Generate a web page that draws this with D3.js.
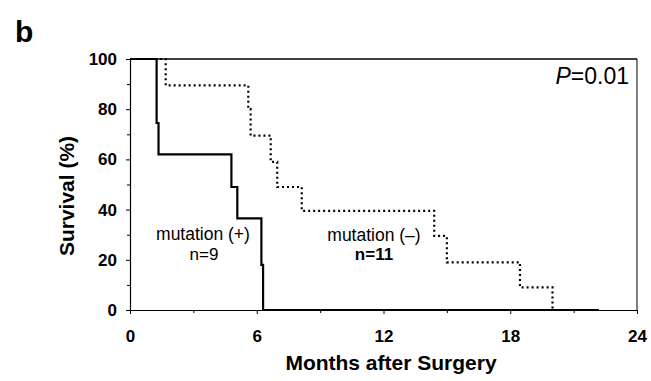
<!DOCTYPE html>
<html>
<head>
<meta charset="utf-8">
<script src="https://cdn.jsdelivr.net/npm/d3@7"></script>
<style>
  body { margin: 0; background: #fff; }
  svg { display: block; font-family: "Liberation Sans", Arial, Helvetica, sans-serif; }
  .axis path, .axis line { stroke: #000; }
  .axis text { font-size: 17px; font-weight: bold; fill: #000; }
</style>
</head>
<body>
<div id="chart"></div>
<script>
// Kaplan-Meier steps (months, survival %)
const posMonths = [0, 1.26, 1.35, 4.8, 5.08, 6.22, 6.3, 22.2];
const posSurvival = [100, 74.5, 62, 49, 36.5, 18, 0, 0];
const negMonths = [0, 1.69, 5.6, 5.71, 6.66, 6.97, 8.13, 14.4, 15.0, 18.46, 20.0];
const negSurvival = [100, 89.5, 80, 69.5, 59, 49, 39.5, 29.5, 19, 9, 0];
const xTicks = [0, 6, 12, 18, 24];
const xMinor = [3, 9, 15, 21];
const yTicks = [0, 20, 40, 60, 80, 100];
const yMinor = [10, 30, 50, 70, 90];

const width = 651, height = 381;
const plotLeft = 130, plotRight = 637, plotTop = 59, plotBottom = 310;

const svg = d3.select("#chart").append("svg")
    .attr("width", width)
    .attr("height", height);

const x = d3.scaleLinear().domain([0, 24]).range([plotLeft, plotRight]);
const y = d3.scaleLinear().domain([0, 100]).range([plotBottom, plotTop]);

// Axes
svg.append("g")
    .attr("class", "axis")
    .attr("transform", `translate(0, ${plotBottom})`)
    .call(d3.axisBottom(x).tickValues(xTicks).tickSize(4).tickPadding(16).tickSizeOuter(0))
    .call(g => g.select(".domain").attr("stroke-width", 1.2));

svg.append("g")
    .attr("class", "axis")
    .attr("transform", `translate(0, ${plotBottom})`)
    .call(d3.axisBottom(x).tickValues(xMinor).tickSize(3).tickFormat("").tickSizeOuter(0))
    .call(g => g.select(".domain").remove());

svg.append("g")
    .attr("class", "axis")
    .attr("transform", `translate(${plotLeft}, 0)`)
    .call(d3.axisLeft(y).tickValues(yTicks).tickSize(4).tickPadding(9).tickSizeOuter(0))
    .call(g => g.select(".domain").attr("stroke-width", 1.2));

svg.append("g")
    .attr("class", "axis")
    .attr("transform", `translate(${plotLeft}, 0)`)
    .call(d3.axisLeft(y).tickValues(yMinor).tickSize(3).tickFormat("").tickSizeOuter(0))
    .call(g => g.select(".domain").remove());

// Frame top and right
svg.append("line")
    .attr("x1", plotLeft).attr("x2", plotRight)
    .attr("y1", plotTop).attr("y2", plotTop)
    .attr("stroke", "#000").attr("stroke-width", 1.5);
svg.append("line")
    .attr("x1", plotRight).attr("x2", plotRight)
    .attr("y1", plotTop).attr("y2", plotBottom)
    .attr("stroke", "#000").attr("stroke-width", 1);

// Step curves
const line = d3.line()
    .x(d => x(d[0]))
    .y(d => y(d[1]))
    .curve(d3.curveStepAfter);

svg.append("path")
    .datum(d3.zip(negMonths, negSurvival))
    .attr("d", line)
    .attr("fill", "none")
    .attr("stroke", "#000")
    .attr("stroke-width", 2.2)
    .attr("stroke-dasharray", "2,3");

svg.append("path")
    .datum(d3.zip(posMonths, posSurvival))
    .attr("d", line)
    .attr("fill", "none")
    .attr("stroke", "#000")
    .attr("stroke-width", 2.2);

// Labels
svg.append("text")
    .attr("x", 15).attr("y", 42)
    .attr("font-size", 30).attr("font-weight", "bold")
    .text("b");

svg.append("text")
    .attr("x", 391).attr("y", 370)
    .attr("text-anchor", "middle")
    .attr("font-size", 21).attr("font-weight", "bold")
    .text("Months after Surgery");

svg.append("text")
    .attr("transform", "translate(74, 196) rotate(-90)")
    .attr("text-anchor", "middle")
    .attr("font-size", 21).attr("font-weight", "bold")
    .text("Survival (%)");

const p = svg.append("text")
    .attr("x", 629).attr("y", 84)
    .attr("text-anchor", "end")
    .attr("font-size", 23);
p.append("tspan").attr("font-style", "italic").text("P");
p.append("tspan").text("=0.01");

svg.append("text")
    .attr("x", 203).attr("y", 240)
    .attr("text-anchor", "middle")
    .attr("font-size", 17.5)
    .text("mutation (+)");
svg.append("text")
    .attr("x", 204).attr("y", 259.5)
    .attr("text-anchor", "middle")
    .attr("font-size", 17)
    .text("n=9");

svg.append("text")
    .attr("x", 374).attr("y", 240.5)
    .attr("text-anchor", "middle")
    .attr("font-size", 17.5)
    .text("mutation (\u2013)");
svg.append("text")
    .attr("x", 374).attr("y", 259.5)
    .attr("text-anchor", "middle")
    .attr("font-size", 17)
    .attr("font-weight", "bold")
    .text("n=11");
</script>
</body>
</html>
